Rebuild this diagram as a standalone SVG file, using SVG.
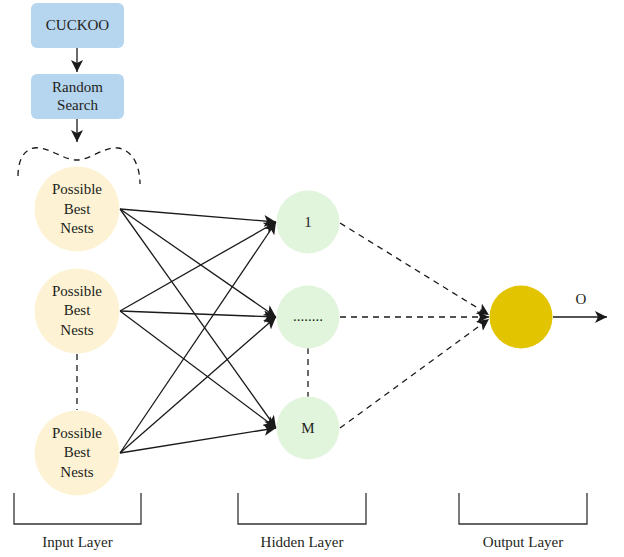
<svg xmlns="http://www.w3.org/2000/svg" width="624" height="557" viewBox="0 0 624 557">
<defs>
<style>
text{font-family:"Liberation Serif","DejaVu Serif",serif;font-size:15px;fill:#231f20;text-anchor:middle}
.box{fill:#b6d5ef}
.in{fill:#fdf3d4}
.hid{fill:#e1f4dc}
.out{fill:#e3c400}
.s{stroke:#1a1a1a;stroke-width:1.3;fill:none}
.d{stroke:#1a1a1a;stroke-width:1.3;fill:none;stroke-dasharray:6,5}
.br{stroke:#333;stroke-width:1.3;fill:none}
</style>
<marker id="ah" viewBox="0 0 10 10" refX="10" refY="5" markerWidth="12" markerHeight="12" markerUnits="userSpaceOnUse" orient="auto">
<path d="M0,0 L10,5 L0,10 L2.5,5 z" fill="#1a1a1a"/>
</marker>
</defs>
<g id="connectors">
<line class="s" x1="77" y1="48" x2="77" y2="72" marker-end="url(#ah)"/>
<line class="s" x1="77" y1="119" x2="77" y2="142" marker-end="url(#ah)"/>
<path class="d" d="M18,176 C18,155 28,146 40,148 C55,151 65,160 77,160 C90,160 105,146 118,148 C132,150 140,165 140,184"/>
<line class="s" x1="120" y1="209" x2="276" y2="222" marker-end="url(#ah)"/>
<line class="s" x1="120" y1="209" x2="276" y2="317" marker-end="url(#ah)"/>
<line class="s" x1="120" y1="209" x2="276" y2="428" marker-end="url(#ah)"/>
<line class="s" x1="120" y1="311" x2="276" y2="222" marker-end="url(#ah)"/>
<line class="s" x1="120" y1="311" x2="276" y2="317" marker-end="url(#ah)"/>
<line class="s" x1="120" y1="311" x2="276" y2="428" marker-end="url(#ah)"/>
<line class="s" x1="120" y1="453" x2="276" y2="222" marker-end="url(#ah)"/>
<line class="s" x1="120" y1="453" x2="276" y2="317" marker-end="url(#ah)"/>
<line class="s" x1="120" y1="453" x2="276" y2="428" marker-end="url(#ah)"/>
<line class="d" x1="77" y1="354" x2="77" y2="410"/>
<line class="d" x1="308" y1="348" x2="308" y2="397"/>
<line class="d" x1="340" y1="223" x2="489" y2="315" marker-end="url(#ah)"/>
<line class="d" x1="340" y1="317" x2="489" y2="317" marker-end="url(#ah)"/>
<line class="d" x1="340" y1="428" x2="489" y2="319" marker-end="url(#ah)"/>
<line class="s" x1="553" y1="317" x2="607" y2="317" marker-end="url(#ah)"/>
</g>
<g id="cuckoo">
<rect class="box" x="31" y="3" width="93" height="45" rx="6"/>
<text x="77.5" y="30">CUCKOO</text>
</g>
<g id="random-search">
<rect class="box" x="31" y="74" width="93" height="45" rx="6"/>
<text x="77.5" y="92">Random</text>
<text x="77.5" y="110">Search</text>
</g>
<g id="input1">
<circle class="in" cx="77" cy="209" r="42.5"/>
<text x="77" y="194">Possible</text>
<text x="77" y="214">Best</text>
<text x="77" y="233">Nests</text>
</g>
<g id="input2">
<circle class="in" cx="77" cy="311" r="42.5"/>
<text x="77" y="296">Possible</text>
<text x="77" y="315">Best</text>
<text x="77" y="335">Nests</text>
</g>
<g id="input3">
<circle class="in" cx="77" cy="453" r="42.5"/>
<text x="77" y="438">Possible</text>
<text x="77" y="457">Best</text>
<text x="77" y="477">Nests</text>
</g>
<g id="hidden1">
<circle class="hid" cx="308" cy="222" r="31.5"/>
<text x="308" y="227">1</text>
</g>
<g id="hidden2">
<circle class="hid" cx="308" cy="317" r="31.5"/>
<text x="308" y="321">........</text>
</g>
<g id="hiddenM">
<circle class="hid" cx="308" cy="428" r="31.5"/>
<text x="308" y="433">M</text>
</g>
<g id="output">
<circle class="out" cx="521" cy="317" r="31.5"/>
<text x="581" y="304">O</text>
</g>
<g id="input-layer">
<path class="br" d="M14,493 V524 H141 V493"/>
<text x="77.5" y="547">Input Layer</text>
</g>
<g id="hidden-layer">
<path class="br" d="M238,493 V524 H366 V493"/>
<text x="302" y="547">Hidden Layer</text>
</g>
<g id="output-layer">
<path class="br" d="M459,493 V524 H587 V493"/>
<text x="523" y="547">Output Layer</text>
</g>
</svg>
